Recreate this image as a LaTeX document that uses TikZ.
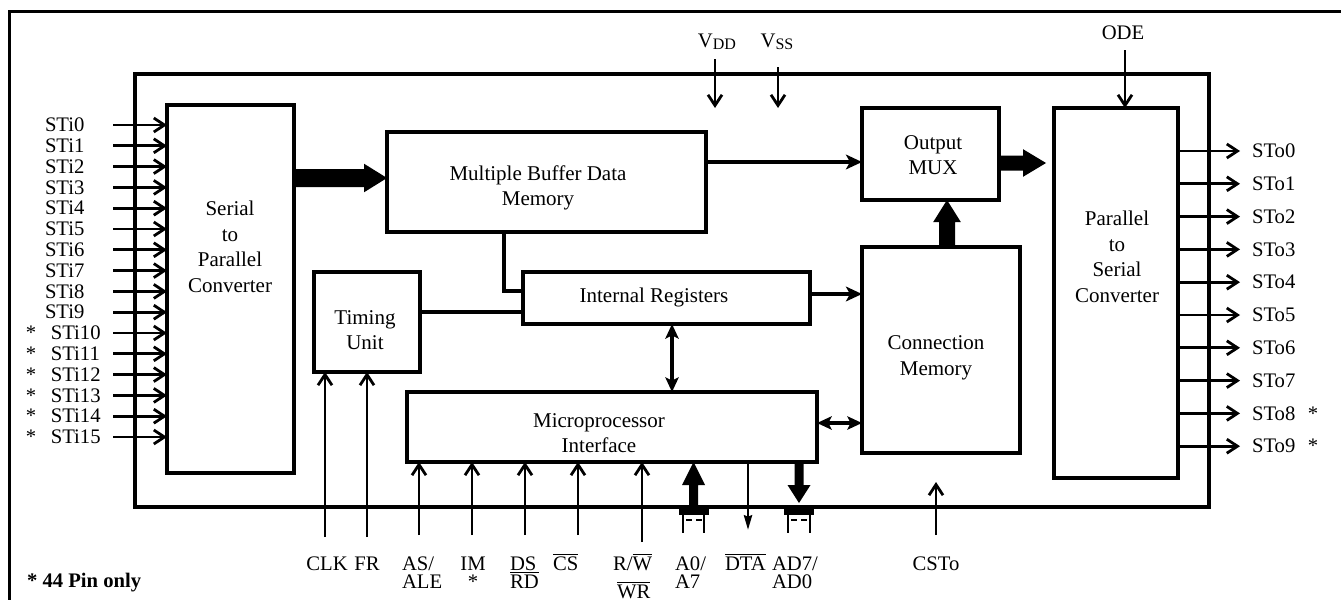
\documentclass[tikz,border=0pt]{standalone}
\usepackage{fontspec}
\setmainfont{Liberation Serif}
\usetikzlibrary{arrows.meta,calc}
\newcommand\ovl[1]{\ensuremath{\overline{\mbox{#1}}}}
% horizontal block arrow: start, tip, half shaft, half head, head length
\newcommand\hbus[5]{\fill ($(#1)+(0,-#3)$) -- ($(#2)+(-#5,-#3)$) -- ($(#2)+(-#5,-#4)$) -- (#2) -- ($(#2)+(-#5,#4)$) -- ($(#2)+(-#5,#3)$) -- ($(#1)+(0,#3)$) -- cycle;}
% vertical block arrow: start, tip, half shaft, half head, signed head length
\newcommand\vbus[5]{\fill ($(#1)+(-#3,0)$) -- ($(#2)+(-#3,#5)$) -- ($(#2)+(-#4,#5)$) -- (#2) -- ($(#2)+(#4,#5)$) -- ($(#2)+(#3,#5)$) -- ($(#1)+(#3,0)$) -- cycle;}
\begin{document}
\begin{tikzpicture}[x=0.75pt,y=-0.75pt,
  every node/.style={inner sep=0pt,outer sep=0pt,font=\fontsize{15.5}{19}\selectfont},
  blk/.style={draw,line width=3.3pt},
  txt/.style={align=center,font=\fontsize{15.75}{19.2}\selectfont},
  wire/.style={line width=3pt},
  sig/.style={line width=2.1pt},
  barb/.style={-{Straight Barb[length=8pt,width=10.5pt]}},
  fat/.style={-{Stealth[length=12pt,width=11pt,inset=3pt]}},
  fat2/.style={{Stealth[length=11pt,width=10pt,inset=2.5pt]}-{Stealth[length=11pt,width=10pt,inset=2.5pt]}},
  dta/.style={-{Stealth[length=11pt,width=6pt,inset=1pt]}}
]
\useasboundingbox (0,0) rectangle (1341,600);
% outer frame (right and bottom lie beyond the picture)
\draw[line width=2pt] (1341,11.5) -- (9.5,11.5) -- (9.5,600);
% chip outline
\node[blk,minimum width=805.5pt,minimum height=324.75pt] (chip) at (672,290.5) {};
% blocks
\node[blk,minimum width=95.25pt,minimum height=276pt] (SP) at (230.5,289) {};
\node[txt] (SPt) at (230,247) {Serial\\to\\Parallel\\Converter};
\node[blk,minimum width=93pt,minimum height=277.5pt] (PS) at (1116,293) {};
\node[txt] (PSt) at (1117,257) {Parallel\\to\\Serial\\Converter};
\node[blk,minimum width=102.75pt,minimum height=69pt] (MUX) at (930.5,154) {};
\node[txt] (MUXt) at (933,155) {Output\\MUX};
\node[blk,minimum width=118.5pt,minimum height=154.5pt] (CM) at (941,350) {};
\node[txt] (CMt) at (936,358) {Connection\\Memory};
\node[blk,minimum width=239.25pt,minimum height=75pt] (MBDM) at (546.5,182) {};
\node[txt] (MBDMt) at (538,188) {Multiple Buffer Data\\Memory};
\node[blk,minimum width=215.25pt,minimum height=39pt] (IR) at (666.5,298) {};
\node[txt] (IRt) at (654,297) {Internal Registers};
\node[blk,minimum width=79.5pt,minimum height=75pt] (TU) at (367,322) {};
\node[txt] (TUt) at (365,330) {Timing\\Unit};
\node[blk,minimum width=307.5pt,minimum height=52.5pt] (MI) at (612,427) {};
\node[txt] (MIt) at (599,433) {Microprocessor\\Interface};
% serial inputs
\foreach \k in {0,...,15} {
  \pgfmathsetmacro\yy{125+20.8*\k}
  \coordinate (si\k) at (113,\yy);
  \draw[sig,barb] (si\k) -- (si\k -| SP.west);
}
\foreach \k in {0,...,9} {
  \pgfmathsetmacro\yy{125+20.8*\k}
  \node[anchor=west] (li\k) at (45,\yy) {STi\k};
}
\foreach \k in {10,...,15} {
  \pgfmathsetmacro\yy{125+20.8*\k}
  \node[anchor=west] (li\k) at (26,\yy) {*\hspace{0.7em}STi\k};
}
% serial outputs
\foreach \k in {0,...,9} {
  \pgfmathsetmacro\yy{151+32.8*\k}
  \coordinate (so\k) at (1240,\yy);
  \draw[sig,barb] (so\k -| PS.east) -- (so\k);
}
\foreach \k in {0,...,7} {
  \pgfmathsetmacro\yy{151+32.8*\k}
  \node[anchor=west] (lo\k) at (1252,\yy) {STo\k};
}
\foreach \k in {8,9} {
  \pgfmathsetmacro\yy{151+32.8*\k}
  \node[anchor=west] (lo\k) at (1252,\yy) {STo\k\hspace{0.6em}*};
}
% supplies and ODE
\node[anchor=base] (vdd) at (717,47) {V\raisebox{-0.3ex}{\fontsize{12}{12}\selectfont DD}};
\node[anchor=base] (vss) at (777,47) {V\raisebox{-0.3ex}{\fontsize{12}{12}\selectfont SS}};
\coordinate (vddS) at (715,59); \coordinate (vddE) at (715,108);
\coordinate (vssS) at (778,67); \coordinate (vssE) at (778,108);
\draw[sig,barb] (vddS) -- (vddE);
\draw[sig,barb] (vssS) -- (vssE);
\node[anchor=base] (ode) at (1123,39) {ODE};
\coordinate (odeS) at (1125,50);
\draw[sig,barb] (odeS) -- (odeS |- PS.north);
% block arrows
\coordinate (yA) at (0,178);
\coordinate (b1s) at (SP.east |- yA); \coordinate (b1e) at (MBDM.west |- yA);
\hbus{b1s}{b1e}{9}{14.3}{23}
\coordinate (yB) at (0,163);
\coordinate (b2s) at (MUX.east |- yB); \coordinate (b2e) at ($(PS.west |- yB)+(-8,0)$);
\hbus{b2s}{b2e}{7.5}{13.8}{23}
\coordinate (xC) at (947,0);
\coordinate (b3s) at (xC |- CM.north); \coordinate (b3e) at (xC |- MUX.south);
\vbus{b3s}{b3e}{8}{13.8}{22}
\coordinate (xA0) at (693.5,0);
\coordinate (b4s) at (xA0 |- chip.south); \coordinate (b4e) at (xA0 |- MI.south);
\vbus{b4s}{b4e}{4.5}{11.5}{23}
\coordinate (xAD) at (799,0);
\coordinate (b5s) at (xAD |- MI.south); \coordinate (b5e) at (799,503);
\vbus{b5s}{b5e}{4.5}{11.5}{-18}
% bus pads
\fill (679,506) rectangle (709,515);
\draw[line width=2.2pt] (683,515) -- (683,533) (704,515) -- (704,533);
\draw[line width=1.3pt] (686,520) -- (692,520) (696,520) -- (702,520);
\fill (784,506) rectangle (814,515);
\draw[line width=2.2pt] (788,515) -- (788,533) (810,515) -- (810,533);
\draw[line width=1.3pt] (791,520) -- (797,520) (801,520) -- (807,520);
% internal wires
\coordinate (yD) at (0,162);
\draw[wire,fat] (MBDM.east |- yD) -- (MUX.west |- yD);
\coordinate (xE) at (504,0); \coordinate (yE) at (0,291);
\draw[wire] (xE |- MBDM.south) -- (xE |- yE) -- (IR.west |- yE);
\coordinate (yF) at (0,312);
\draw[wire] (TU.east |- yF) -- (IR.west |- yF);
\coordinate (yG) at (0,294);
\draw[wire,fat] (IR.east |- yG) -- (CM.west |- yG);
\coordinate (xH) at (672,0);
\draw[wire,fat2] (xH |- IR.south) -- (xH |- MI.north);
\coordinate (yI) at (0,423);
\draw[wire,fat2] (MI.east |- yI) -- (CM.west |- yI);
% bottom inputs
\foreach \x/\n in {419/as,472/im,525/ds,578/cs} {
  \coordinate (in\n) at (\x,535);
  \draw[sig,barb] (in\n) -- (in\n |- MI.south);
}
\coordinate (inrw) at (642,542);
\draw[sig,barb] (inrw) -- (inrw |- MI.south);
\coordinate (inclk) at (325,537);
\draw[sig,barb] (inclk) -- (inclk |- TU.south);
\coordinate (infr) at (367,537);
\draw[sig,barb] (infr) -- (infr |- TU.south);
\coordinate (incst) at (936,535); \coordinate (cstE) at (936,482);
\draw[sig,barb] (incst) -- (cstE);
\coordinate (dtaX) at (748,0); \coordinate (dtaE) at (748,530);
\draw[sig,dta] (dtaX |- MI.south) -- (dtaE);
% bottom labels
\node[anchor=base] (lclk) at (327,570) {CLK};
\node[anchor=base] (lfr) at (367,570) {FR};
\node[anchor=base west] (las) at (402,570) {AS/};
\node[anchor=base west] (lale) at (402,588) {ALE};
\node[anchor=base] (lim) at (473,570) {IM};
\node[anchor=base] (limx) at (473,588) {*};
\node[anchor=base west] (lds) at (510,570) {DS};
\node[anchor=base west] (lrd) at (510,588) {\ovl{RD}};
\node[anchor=base west] (lcs) at (553,570) {\ovl{CS}};
\node[anchor=base west] (lrw) at (613,570) {R/\ovl{W}};
\node[anchor=base west] (lwr) at (617,598) {\ovl{WR}};
\node[anchor=base west] (la0) at (675,570) {A0/};
\node[anchor=base west] (la7) at (675,588) {A7};
\node[anchor=base west] (ldta) at (725,570) {\ovl{DTA}};
\node[anchor=base west] (lad7) at (772,570) {AD7/};
\node[anchor=base west] (lad0) at (772,588) {AD0};
\node[anchor=base] (lcsto) at (936,570) {CSTo};
\node[anchor=base west,font=\fontsize{15.5}{19}\selectfont\bfseries] (note) at (27,587) {* 44 Pin only};
\end{tikzpicture}
\end{document}
